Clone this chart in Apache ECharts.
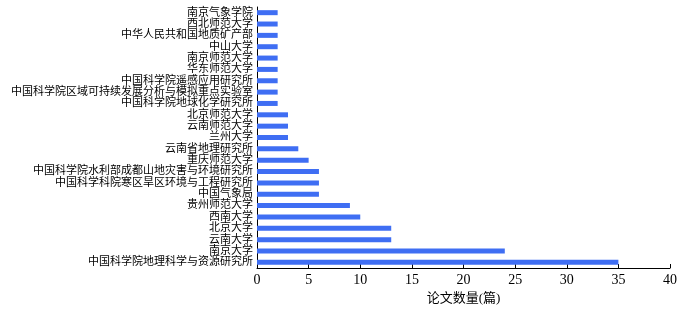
<!DOCTYPE html>
<html>
<head>
<meta charset="utf-8">
<script src="https://cdn.jsdelivr.net/npm/echarts@6/dist/echarts.min.js"></script>
<style>
html,body{margin:0;padding:0;background:#fff;}
#chart{width:700px;height:311px;}
</style>
</head>
<body>
<div id="chart"></div>
<script>
// Institutions, listed top to bottom
const institutions = [
  '南京气象学院',
  '西北师范大学',
  '中华人民共和国地质矿产部',
  '中山大学',
  '南京师范大学',
  '华东师范大学',
  '中国科学院遥感应用研究所',
  '中国科学院区域可持续发展分析与模拟重点实验室',
  '中国科学院地球化学研究所',
  '北京师范大学',
  '云南师范大学',
  '兰州大学',
  '云南省地理研究所',
  '重庆师范大学',
  '中国科学院水利部成都山地灾害与环境研究所',
  '中国科学科院寒区旱区环境与工程研究所',
  '中国气象局',
  '贵州师范大学',
  '西南大学',
  '北京大学',
  '云南大学',
  '南京大学',
  '中国科学院地理科学与资源研究所'
];
// Number of papers per institution
const paperCounts = [2, 2, 2, 2, 2, 2, 2, 2, 2, 3, 3, 3, 4, 5, 6, 6, 6, 9, 10, 13, 13, 24, 35];
const xAxisTitle = '论文数量(篇)';

const serif = '"Liberation Serif", "Noto Sans CJK SC", serif';
const chart = echarts.init(document.getElementById('chart'));
chart.setOption({
  animation: false,
  grid: { left: 257, right: 30, top: 7, bottom: 43, containLabel: false },
  xAxis: {
    type: 'value',
    min: 0, max: 40, interval: 5,
    name: xAxisTitle,
    nameLocation: 'middle',
    nameGap: 21,
    nameTextStyle: { fontFamily: serif, fontSize: 13, color: '#000' },
    axisLine: { show: true, lineStyle: { color: '#000', width: 1 } },
    axisTick: { show: true, inside: true, length: 4, lineStyle: { color: '#000' } },
    axisLabel: { fontFamily: serif, fontSize: 14, color: '#000', margin: 5 },
    splitLine: { show: false }
  },
  yAxis: {
    type: 'category',
    inverse: true,
    data: institutions,
    axisLine: { show: true, lineStyle: { color: '#000', width: 1 } },
    axisTick: { show: false },
    axisLabel: { fontFamily: serif, fontSize: 11, color: '#000', margin: 4, interval: 0 }
  },
  series: [{
    type: 'bar',
    data: paperCounts,
    barWidth: 5,
    itemStyle: { color: '#3f6ef3' }
  }]
});
</script>
</body>
</html>
